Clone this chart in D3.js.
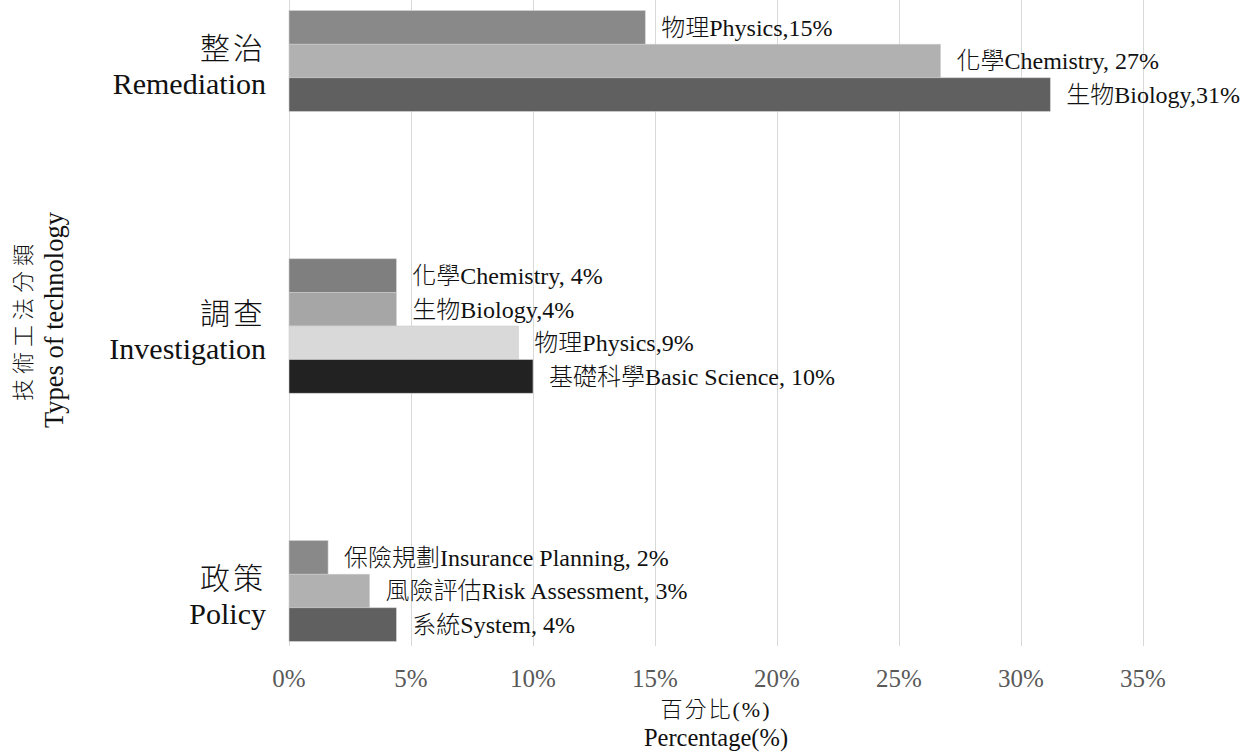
<!DOCTYPE html>
<html>
<head>
<meta charset="utf-8">
<script src="https://cdn.jsdelivr.net/npm/d3@7"></script>
<style>
  html, body { margin: 0; padding: 0; background: #fff; }
  svg text { font-family: "Liberation Serif", "Times New Roman", "Noto Sans CJK TC", serif; }
  svg tspan.cjk { font-weight: 300; }
</style>
</head>
<body>
<svg id="chart" width="1253" height="753"></svg>
<script>
// Technology types and their sub-categories (share of cases)
const categories   = ["Remediation", "Investigation", "Policy"];
const categoriesZh = ["整治", "調查", "政策"];

const remediationNames  = ["物理Physics", "化學Chemistry", "生物Biology"];
const remediationValues = [0.146, 0.267, 0.312];
const remediationSeps   = [",", ", ", ","];

const investigationNames  = ["化學Chemistry", "生物Biology", "物理Physics", "基礎科學Basic Science"];
const investigationValues = [0.044, 0.044, 0.094, 0.100];
const investigationSeps   = [", ", ",", ",", ", "];

const policyNames  = ["保險規劃Insurance Planning", "風險評估Risk Assessment", "系統System"];
const policyValues = [0.016, 0.033, 0.044];
const policySeps   = [", ", ", ", ", "];

const xTickValues = [0, 0.05, 0.10, 0.15, 0.20, 0.25, 0.30, 0.35];
const xTitleZh = "百分比(%)";
const xTitleEn = "Percentage(%)";
const yTitleZh = "技術工法分類";
const yTitleEn = "Types of technology";

// Build one record per bar from the arrays above
const groups = [
  { key: categories[0], zh: categoriesZh[0], names: remediationNames,   values: remediationValues,   seps: remediationSeps },
  { key: categories[1], zh: categoriesZh[1], names: investigationNames, values: investigationValues, seps: investigationSeps },
  { key: categories[2], zh: categoriesZh[2], names: policyNames,        values: policyValues,        seps: policySeps }
];

// Fill shades: three-bar groups and the four-bar group use different greys
const palette3 = ["#898989", "#b1b1b1", "#606060"];
const palette4 = ["#7f7f7f", "#a6a6a6", "#d9d9d9", "#222222"];

const svg = d3.select("#chart");
const plotTop = 0, plotBottom = 646;
const barH = 33.6;

const x = d3.scaleLinear().domain([0, 0.35]).range([289, 1143]);
const yCenter = d3.scalePoint().domain(categories).range([61, 591]);
const pct = d3.format(".0%");

// Write a string into a text node, giving the CJK run a lighter weight
function mixedText(sel, str) {
  const m = str.match(/^([\u3000-\u9fff\uf900-\ufaff]+)(.*)$/);
  if (m) {
    sel.append("tspan").attr("class", "cjk").text(m[1]);
    sel.append("tspan").text(m[2]);
  } else {
    sel.append("tspan").text(str);
  }
}

// Vertical gridlines
svg.append("g")
  .selectAll("line")
  .data(xTickValues)
  .join("line")
  .attr("x1", d => Math.round(x(d)) + 0.5)
  .attr("x2", d => Math.round(x(d)) + 0.5)
  .attr("y1", plotTop)
  .attr("y2", plotBottom)
  .attr("stroke", "#d9d9d9")
  .attr("stroke-width", 1);

// Bars and value labels
groups.forEach(g => {
  const n = g.values.length;
  const pal = n === 4 ? palette4 : palette3;
  const inner = d3.scaleBand()
    .domain(d3.range(n))
    .range([yCenter(g.key) - n * barH / 2, yCenter(g.key) + n * barH / 2]);

  const rows = g.values.map((v, i) => ({ v, i, name: g.names[i], sep: g.seps[i] }));
  const gg = svg.append("g");

  gg.selectAll("rect")
    .data(rows)
    .join("rect")
    .attr("x", x(0))
    .attr("y", d => inner(d.i))
    .attr("width", d => x(d.v) - x(0))
    .attr("height", inner.bandwidth())
    .attr("fill", d => pal[d.i])
    .attr("stroke", "#cccccc")
    .attr("stroke-width", 0.6);

  gg.selectAll("text")
    .data(rows)
    .join("text")
    .attr("x", d => x(d.v) + 16)
    .attr("y", d => inner(d.i) + inner.bandwidth() / 2)
    .attr("dy", "0.35em")
    .attr("font-size", 24)
    .attr("fill", "#111")
    .each(function (d) { mixedText(d3.select(this), d.name + d.sep + pct(d.v)); });

  // Category label: Chinese above English, right aligned next to the axis
  const lab = svg.append("text")
    .attr("text-anchor", "end")
    .attr("font-size", 30)
    .attr("fill", "#111");
  lab.append("tspan").attr("class", "cjk").attr("x", 266).attr("y", yCenter(g.key) - 2)
    .attr("letter-spacing", 3).text(g.zh);
  lab.append("tspan").attr("x", 266).attr("y", yCenter(g.key) + 33).text(g.key);
});

// X tick labels
svg.append("g")
  .selectAll("text")
  .data(xTickValues)
  .join("text")
  .attr("x", d => x(d))
  .attr("y", 687)
  .attr("text-anchor", "middle")
  .attr("font-size", 25)
  .attr("fill", "#595959")
  .text(d => pct(d));

// X axis title
const xMid = (x(0) + x(0.35)) / 2;
const xt = svg.append("text")
  .attr("x", xMid).attr("y", 717)
  .attr("text-anchor", "middle").attr("font-size", 22).attr("fill", "#111")
  .attr("letter-spacing", 2);
mixedText(xt, xTitleZh);
svg.append("text")
  .attr("x", xMid).attr("y", 746)
  .attr("text-anchor", "middle").attr("font-size", 24.5).attr("fill", "#111")
  .text(xTitleEn);

// Y axis title (rotated)
const yMid = 320;
svg.append("text")
  .attr("transform", `translate(31,${yMid}) rotate(-90)`)
  .attr("text-anchor", "middle").attr("font-size", 22).attr("fill", "#111")
  .attr("letter-spacing", 5)
  .append("tspan").attr("class", "cjk").text(yTitleZh);
svg.append("text")
  .attr("transform", `translate(63,${yMid}) rotate(-90)`)
  .attr("text-anchor", "middle").attr("font-size", 26.5).attr("fill", "#111")
  .text(yTitleEn);
</script>
</body>
</html>
